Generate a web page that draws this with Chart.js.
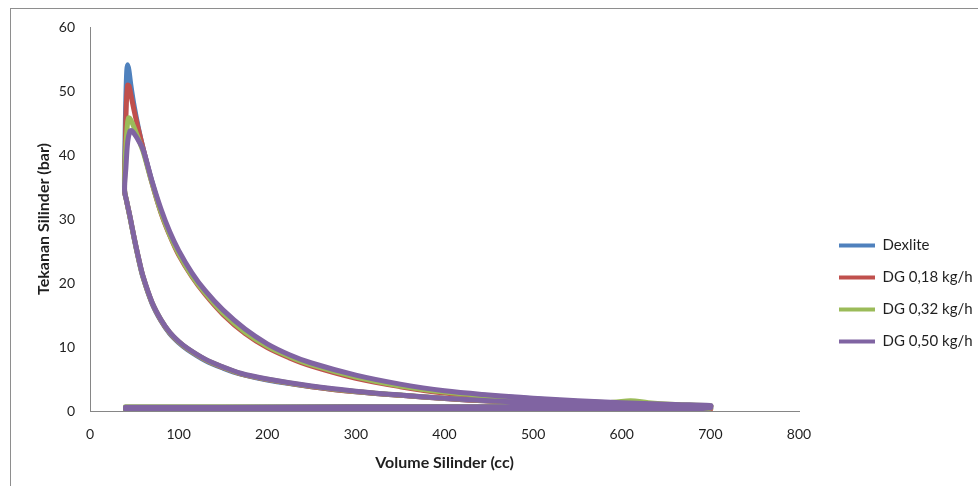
<!DOCTYPE html>
<html>
<head>
<meta charset="utf-8">
<script src="https://cdn.jsdelivr.net/npm/chart.js@4.4.1/dist/chart.umd.min.js"></script>
<style>
  html, body { margin: 0; padding: 0; background: #fff; }
  #wrap { position: relative; width: 978px; height: 486px; overflow: hidden; }
  #wrap canvas { position: absolute; left: 0; top: 0; }
  #frame { position: absolute; left: 10px; top: 8px; width: 1000px; height: 1000px;
           border: 1px solid #8e8e8e; pointer-events: none; }
</style>
</head>
<body>
<div id="wrap">
  <canvas id="chart" width="978" height="486"></canvas>
  <div id="frame"></div>
</div>
<script>
// series
var seriesNames = ['Dexlite', 'DG 0,18 kg/h', 'DG 0,32 kg/h', 'DG 0,50 kg/h'];
var seriesColors = ['#4F81BD', '#C0504D', '#9BBB59', '#8064A2'];

// shared volumes (cc) for intake, compression and exhaust strokes
var intakeVol = [40, 150, 300, 450, 600, 680, 700];
var compVol = [650, 600, 550, 500, 450, 400, 350, 300, 250, 200, 170, 150, 130, 110, 100, 90, 80, 70, 60, 55, 50, 45, 41, 39];
var exhaustVol = [600, 450, 300, 150, 40];

// Dexlite (bar)
var dexliteIntake = [0.2, 0.15, 0.1, 0.1, 0.1, 0.2, 0.45];
var dexliteComp = [0.7, 0.9, 1.05, 1.25, 1.55, 1.95, 2.45, 3.0, 3.8, 4.85, 5.75, 6.7, 7.9, 9.6, 10.7, 12.1, 14.1, 16.8, 20.8, 23.6, 26.8, 30.3, 33.0, 34.3];
var dexliteExpVol = [39.5, 40.5, 41.5, 42.5, 44, 46, 50, 55, 60, 70, 80, 90, 100, 115, 130, 150, 175, 200, 225, 250, 300, 350, 400, 450, 500, 550, 600, 650, 700];
var dexliteExp = [42, 49, 53.2, 54.1, 53.2, 51, 47.5, 44, 41, 35.8, 31.2, 27.6, 24.7, 21.3, 18.6, 15.5, 12.5, 10.2, 8.6, 7.3, 5.4, 4.0, 3.0, 2.4, 1.9, 1.5, 1.2, 0.95, 0.75];
var dexliteExhaust = [0.65, 0.6, 0.6, 0.55, 0.55];

// DG 0,18 kg/h
var dg18Intake = [0.1, 0.05, 0.0, 0.0, 0.0, 0.05, 0.3];
var dg18Comp = [0.7, 0.9, 1.05, 1.25, 1.55, 1.95, 2.45, 3.0, 3.8, 4.9, 5.8, 6.8, 8.0, 9.7, 10.8, 12.2, 14.2, 16.9, 20.9, 23.7, 26.9, 30.4, 33.0, 34.4];
var dg18ExpVol = [40, 41, 42.5, 44, 46, 50, 55, 60, 70, 80, 90, 100, 115, 130, 150, 175, 200, 225, 250, 300, 350, 400, 450, 500, 550, 600, 650, 700];
var dg18Exp = [42, 48, 50.9, 50.8, 49.5, 46.8, 43.8, 41, 35.6, 31, 27.4, 24.4, 21, 18.2, 15.1, 12.1, 9.9, 8.3, 7.0, 5.1, 3.8, 2.8, 2.2, 1.75, 1.4, 1.1, 0.9, 0.7];
var dg18Exhaust = [0.6, 0.55, 0.55, 0.5, 0.5];

// DG 0,32 kg/h
var dg32Intake = [0.25, 0.2, 0.15, 0.15, 0.15, 0.25, 0.5];
var dg32Comp = [0.75, 0.95, 1.1, 1.3, 1.6, 2.0, 2.5, 3.05, 3.85, 4.95, 5.85, 6.85, 8.05, 9.75, 10.85, 12.25, 14.25, 16.95, 20.9, 23.7, 26.9, 30.4, 33.0, 34.5];
var dg32ExpVol = [40, 42, 43.5, 45, 48, 52, 56, 60, 70, 80, 90, 100, 115, 130, 150, 175, 200, 225, 250, 300, 350, 400, 450, 500, 550, 590, 610, 630, 650, 700];
var dg32Exp = [40, 44.5, 45.8, 45.7, 44.9, 43.5, 42, 40.5, 35.6, 31.1, 27.5, 24.6, 21.1, 18.4, 15.3, 12.3, 10.1, 8.5, 7.2, 5.3, 3.9, 2.95, 2.35, 1.85, 1.5, 1.35, 1.6, 1.3, 1.1, 0.8];
var dg32Exhaust = [0.75, 0.7, 0.7, 0.65, 0.65];

// DG 0,50 kg/h
var dg50Intake = [0.3, 0.25, 0.25, 0.25, 0.25, 0.3, 0.55];
var dg50Comp = [0.75, 0.95, 1.1, 1.3, 1.6, 2.0, 2.5, 3.1, 3.9, 5.0, 5.9, 6.9, 8.1, 9.8, 10.9, 12.3, 14.3, 17.0, 21.0, 23.8, 27.0, 30.5, 33.0, 34.5];
var dg50ExpVol = [40.5, 42.5, 45, 47, 50, 55, 60, 70, 80, 90, 100, 115, 130, 150, 175, 200, 225, 250, 300, 350, 400, 450, 500, 550, 600, 650, 700];
var dg50Exp = [38, 42, 43.7, 43.8, 43.3, 42.2, 40.8, 35.9, 31.6, 28.0, 25.1, 21.6, 18.8, 15.8, 12.8, 10.5, 8.8, 7.5, 5.6, 4.2, 3.15, 2.5, 2.0, 1.6, 1.3, 1.05, 0.85];
var dg50Exhaust = [0.7, 0.65, 0.65, 0.6, 0.6];

function pairs(xs, ys, out) {
  xs.forEach(function(x, i) { out.push({x: x, y: ys[i]}); });
  return out;
}

// one engine cycle: intake -> compression -> combustion/expansion -> exhaust
function cycle(intake, comp, expVol, exp, exhaust) {
  var pts = [];
  pairs(intakeVol, intake, pts);
  pairs(compVol, comp, pts);
  pairs(expVol, exp, pts);
  pairs(exhaustVol, exhaust, pts);
  return pts;
}

var cycles = [
  cycle(dexliteIntake, dexliteComp, dexliteExpVol, dexliteExp, dexliteExhaust),
  cycle(dg18Intake, dg18Comp, dg18ExpVol, dg18Exp, dg18Exhaust),
  cycle(dg32Intake, dg32Comp, dg32ExpVol, dg32Exp, dg32Exhaust),
  cycle(dg50Intake, dg50Comp, dg50ExpVol, dg50Exp, dg50Exhaust)
];

var textColor = '#1f1f1f';
var axisColor = '#868686';
var fontFamily = 'Lato, "Open Sans", sans-serif';

// nudge legend to where the original sits
var legendShift = {
  id: 'legendShift',
  afterLayout: function(chart) {
    var lg = chart.legend;
    lg.left += 23; lg.right += 23;
    lg.top += 44; lg.bottom += 44;
  }
};

new Chart(document.getElementById('chart'), {
  type: 'scatter',
  data: {
    datasets: cycles.map(function(pts, i) {
      return {
        label: seriesNames[i],
        data: pts,
        showLine: true,
        borderColor: seriesColors[i],
        backgroundColor: seriesColors[i],
        borderWidth: 5,
        borderCapStyle: 'round',
        borderJoinStyle: 'round',
        pointRadius: 0,
        tension: 0.35,
        order: 4 - i   // last series painted on top
      };
    })
  },
  options: {
    responsive: false,
    animation: false,
    events: [],
    layout: { padding: { left: 30, top: 27, right: 0, bottom: 14 } },
    plugins: {
      tooltip: { enabled: false },
      legend: {
        position: 'right',
        labels: {
          boxWidth: 36,
          boxHeight: 4,
          padding: 17,
          color: textColor,
          font: { family: fontFamily, size: 15 },
          sort: function(a, b) { return a.datasetIndex - b.datasetIndex; },
          generateLabels: function(chart) {
            return Chart.defaults.plugins.legend.labels.generateLabels(chart).map(function(l) {
              l.lineWidth = 0;
              return l;
            });
          }
        }
      }
    },
    scales: {
      x: {
        type: 'linear',
        min: 0,
        max: 800,
        grid: { display: false, drawTicks: false },
        border: { display: true, color: axisColor, width: 1 },
        ticks: { stepSize: 100, padding: 15, color: textColor, font: { family: fontFamily, size: 14 } },
        title: { display: true, text: 'Volume Silinder (cc)', color: textColor,
                 padding: { top: 10, bottom: 0 },
                 font: { family: fontFamily, size: 16, weight: 'bold' } },
        afterFit: function(s) { s.paddingRight = 179; s.height = 61; }
      },
      y: {
        min: 0,
        max: 60,
        grid: { display: false, drawTicks: false },
        border: { display: true, color: axisColor, width: 1 },
        ticks: { stepSize: 10, padding: 15, color: textColor, font: { family: fontFamily, size: 14 } },
        title: { display: true, text: 'Tekanan Silinder (bar)', color: textColor,
                 padding: { top: 4, bottom: 0 },
                 font: { family: fontFamily, size: 16, weight: 'bold' } },
        afterFit: function(s) { s.width = 60; }
      }
    }
  },
  plugins: [legendShift]
});
</script>
</body>
</html>
